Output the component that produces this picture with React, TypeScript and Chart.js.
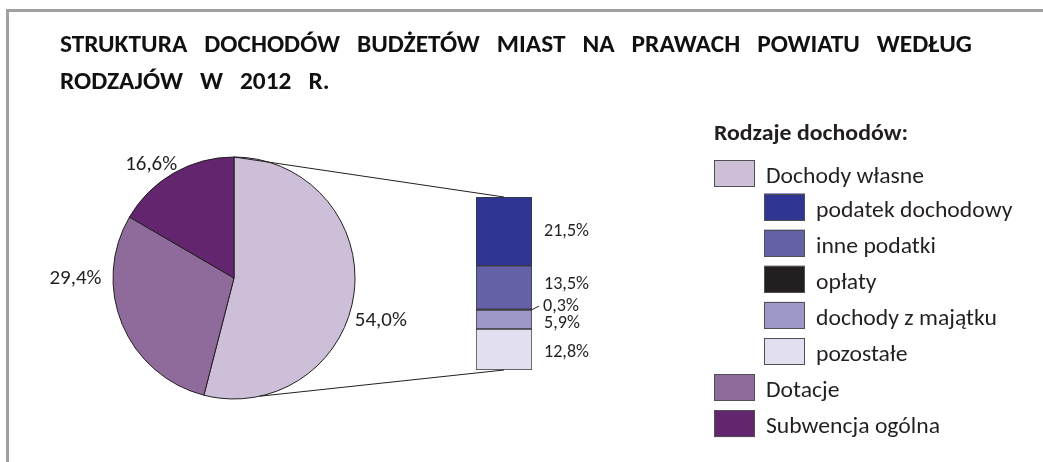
import React, { useEffect, useRef } from 'react';
import { Chart, registerables } from 'chart.js';

Chart.register(...registerables);

// ---------- data ----------
const TITLE_LINE_1 = ['STRUKTURA', 'DOCHODÓW', 'BUDŻETÓW', 'MIAST', 'NA', 'PRAWACH', 'POWIATU', 'WEDŁUG'];
const TITLE_LINE_2 = ['RODZAJÓW', 'W', '2012', 'R.'];
const LEGEND_TITLE = 'Rodzaje dochodów:';

const pieLabels = ['Dochody własne', 'Dotacje', 'Subwencja ogólna'];
const pieValues = [54.0, 29.4, 16.6];
const pieColors = ['#CDBFD8', '#8E6B9A', '#62256E'];

const barLabels = ['podatek dochodowy', 'inne podatki', 'opłaty', 'dochody z majątku', 'pozostałe'];
const barValues = [21.5, 13.5, 0.3, 5.9, 12.8];
const barColors = ['#2E3592', '#6461A9', '#231F20', '#9E98CA', '#E1DFF0'];

// ---------- layout / style ----------
const W = 1043;
const H = 462;
const FAMILY = "Carlito, Lato, 'Open Sans', sans-serif";
const TEXT = '#231F20';
const TITLE_GAP = 17;
const pieLabelAngle = [105.6, 270.4, 324.2];
const pieLabelDist = [1.26, 1.31, 1.17];
const barLabelShift = [-1, -4.5, -4, 3, 1.5];
const lowerConnectorAngle = 167.7;

const fmt = (v: number) => v.toFixed(1).replace('.', ',') + '%';

type TextStyle = { font: string; sx: number; cap: number };

function makeStyle(
  ctx: CanvasRenderingContext2D,
  weight: string,
  capTarget: number,
  refText: string,
  refWidth: number
): TextStyle {
  ctx.font = `${weight} 100px ${FAMILY}`;
  const capA = ctx.measureText('H').actualBoundingBoxAscent || 72;
  const size = (100 * capTarget) / capA;
  const font = `${weight} ${size.toFixed(2)}px ${FAMILY}`;
  ctx.font = font;
  const w = ctx.measureText(refText).width;
  return { font, sx: refWidth / w, cap: capTarget };
}

function textWidth(ctx: CanvasRenderingContext2D, st: TextStyle, text: string) {
  ctx.font = st.font;
  return ctx.measureText(text).width * st.sx;
}

function drawText(
  ctx: CanvasRenderingContext2D,
  st: TextStyle,
  text: string,
  x: number,
  y: number,
  align: CanvasTextAlign = 'left'
) {
  ctx.save();
  ctx.font = st.font;
  ctx.textAlign = align;
  ctx.textBaseline = 'alphabetic';
  ctx.translate(x, y);
  ctx.scale(st.sx, 1);
  ctx.fillText(text, 0, 0);
  ctx.restore();
}

function drawMid(
  ctx: CanvasRenderingContext2D,
  st: TextStyle,
  text: string,
  x: number,
  cy: number,
  align: CanvasTextAlign = 'left'
) {
  drawText(ctx, st, text, x, cy + st.cap / 2, align);
}

export default function App() {
  const pieRef = useRef<HTMLCanvasElement>(null);
  const barRef = useRef<HTMLCanvasElement>(null);

  useEffect(() => {
    if (!pieRef.current || !barRef.current) return;

    const decorPlugin = {
      id: 'decor',
      afterDraw(chart: any) {
        const ctx: CanvasRenderingContext2D = chart.ctx;
        ctx.save();
        // frame
        ctx.fillStyle = '#A0A0A0';
        ctx.fillRect(6, 9, W - 6, 3);
        ctx.fillRect(6, 9, 3, H - 9);

        // title
        const x0 = 60;
        const x1 = 972;
        const wordsTarget = x1 - x0 - TITLE_GAP * (TITLE_LINE_1.length - 1);
        const ts = makeStyle(ctx, 'bold', 16.2, TITLE_LINE_1.join(''), wordsTarget);
        ctx.fillStyle = '#111';
        const widths1 = TITLE_LINE_1.map((w) => textWidth(ctx, ts, w));
        const sum1 = widths1.reduce((a, b) => a + b, 0);
        const gap = (x1 - x0 - sum1) / (TITLE_LINE_1.length - 1);
        let x = x0;
        TITLE_LINE_1.forEach((w, i) => {
          drawText(ctx, ts, w, x, 52);
          x += widths1[i] + gap;
        });
        x = x0;
        TITLE_LINE_2.forEach((w) => {
          drawText(ctx, ts, w, x, 89);
          x += textWidth(ctx, ts, w) + gap;
        });

        // legend
        const lts = makeStyle(ctx, 'bold', 14.2, LEGEND_TITLE, 194);
        ctx.fillStyle = TEXT;
        drawText(ctx, lts, LEGEND_TITLE, 714, 140);

        const items: { label: string; color: string; indent: boolean }[] = [];
        items.push({ label: pieLabels[0], color: pieColors[0], indent: false });
        barLabels.forEach((l, i) => items.push({ label: l, color: barColors[i], indent: true }));
        items.push({ label: pieLabels[1], color: pieColors[1], indent: false });
        items.push({ label: pieLabels[2], color: pieColors[2], indent: false });

        const ls = makeStyle(ctx, 'normal', 14.4, 'Dochody własne', 158);
        items.forEach((it, i) => {
          const top = i === 0 ? 160 : 193.5 + (i - 1) * 36.1;
          const bx = it.indent ? 764 : 714;
          ctx.fillStyle = it.color;
          ctx.fillRect(bx, top, 41, 27);
          ctx.strokeStyle = '#505050';
          ctx.lineWidth = 1;
          ctx.strokeRect(Math.round(bx) + 0.5, Math.round(top) + 0.5, 40, 26);
          ctx.fillStyle = TEXT;
          drawText(ctx, ls, it.label, bx + 52, top + 23);
        });

        // pie labels
        const meta = chart.getDatasetMeta(0);
        const arc0: any = meta.data[0];
        const cx = arc0.x;
        const cy = arc0.y;
        const r = arc0.outerRadius;
        const ps = makeStyle(ctx, 'normal', 13.4, '54,0%', 52);
        ctx.fillStyle = TEXT;
        pieValues.forEach((v, i) => {
          const a = (pieLabelAngle[i] * Math.PI) / 180;
          const lx = cx + Math.sin(a) * r * pieLabelDist[i];
          const ly = cy - Math.cos(a) * r * pieLabelDist[i];
          drawMid(ctx, ps, fmt(v), lx, ly, 'center');
        });
        ctx.restore();
      },
    };

    const pie = new Chart(pieRef.current, {
      type: 'pie',
      data: {
        labels: pieLabels,
        datasets: [
          {
            data: pieValues,
            backgroundColor: pieColors,
            borderColor: '#231F20',
            borderWidth: 1,
            radius: 121,
          } as any,
        ],
      },
      options: {
        animation: false,
        responsive: false,
        events: [],
        rotation: 0,
        layout: { padding: { left: 113, right: W - 355, top: 157, bottom: H - 399 } },
        plugins: { legend: { display: false }, tooltip: { enabled: false }, title: { display: false } },
      } as any,
      plugins: [decorPlugin],
    });

    const total = barValues.reduce((a, b) => a + b, 0);
    const order = barValues.map((_, i) => i).reverse();

    const barPlugin = {
      id: 'barDecor',
      afterDraw(chart: any) {
        const ctx: CanvasRenderingContext2D = chart.ctx;
        ctx.save();
        const area = chart.chartArea;
        const bcx = (area.left + area.right) / 2;
        // connectors
        const parc: any = pie.getDatasetMeta(0).data[0];
        const pcx = parc.x;
        const pcy = parc.y;
        const pr = parc.outerRadius;
        const a0 = parc.startAngle;
        const a1 = (lowerConnectorAngle * Math.PI) / 180 - Math.PI / 2;
        ctx.strokeStyle = '#231F20';
        ctx.lineWidth = 1;
        ctx.beginPath();
        ctx.moveTo(pcx + Math.cos(a0) * pr, pcy + Math.sin(a0) * pr);
        ctx.lineTo(bcx, area.top);
        ctx.moveTo(pcx + Math.cos(a1) * pr, pcy + Math.sin(a1) * pr);
        ctx.lineTo(bcx, area.bottom);
        ctx.stroke();

        // labels
        const bs = makeStyle(ctx, 'normal', 11.6, '21,5%', 45);
        ctx.fillStyle = TEXT;
        const lx = area.right + 12;
        order.forEach((idx, dsIndex) => {
          const el: any = chart.getDatasetMeta(dsIndex).data[0];
          const segMid = (el.y + el.base) / 2;
          const ly = segMid + barLabelShift[idx];
          const segH = Math.abs(el.base - el.y);
          if (segH < 4) {
            ctx.beginPath();
            ctx.moveTo(area.right, segMid);
            ctx.lineTo(lx - 5, ly + 0.5);
            ctx.stroke();
            drawMid(ctx, bs, fmt(barValues[idx]), lx - 1, ly);
          } else {
            drawMid(ctx, bs, fmt(barValues[idx]), lx, ly);
          }
        });
        ctx.restore();
      },
    };

    const bar = new Chart(barRef.current, {
      type: 'bar',
      data: {
        labels: [pieLabels[0]],
        datasets: order.map((i) => ({
          label: barLabels[i],
          data: [barValues[i]],
          backgroundColor: barColors[i],
          borderColor: '#3A3A3A',
          borderWidth: 1,
          borderSkipped: false,
          barPercentage: 1,
          categoryPercentage: 1,
        })),
      },
      options: {
        animation: false,
        responsive: false,
        events: [],
        layout: { padding: { left: 476, right: W - 532, top: 197, bottom: H - 370 } },
        scales: {
          x: { display: false, stacked: true },
          y: { display: false, stacked: true, min: 0, max: total },
        },
        plugins: { legend: { display: false }, tooltip: { enabled: false }, title: { display: false } },
      } as any,
      plugins: [barPlugin],
    });

    return () => {
      bar.destroy();
      pie.destroy();
    };
  }, []);

  return (
    <div style={{ position: 'absolute', left: 0, top: 0, width: W, height: H, background: '#fff' }}>
      <canvas ref={pieRef} width={W} height={H} style={{ position: 'absolute', left: 0, top: 0, width: W, height: H }} />
      <canvas ref={barRef} width={W} height={H} style={{ position: 'absolute', left: 0, top: 0, width: W, height: H }} />
    </div>
  );
}
